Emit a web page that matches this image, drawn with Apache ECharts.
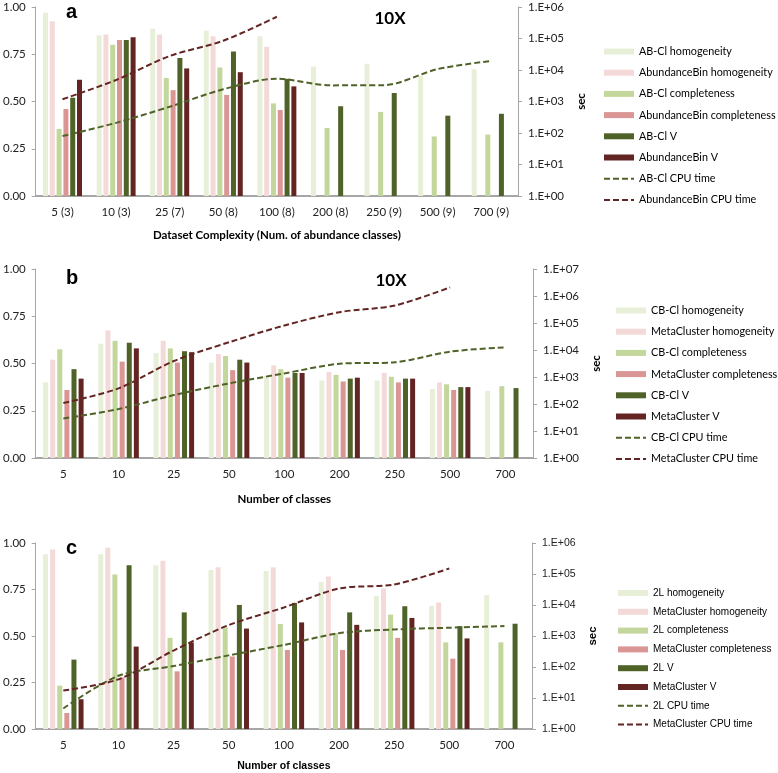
<!DOCTYPE html>
<html><head><meta charset="utf-8">
<script src="https://cdn.jsdelivr.net/npm/echarts@6/dist/echarts.min.js"></script>
<style>html,body{margin:0;padding:0;background:#fff}#c{width:778px;height:773px}</style>
</head><body><div id="c"></div>
<script>
// ---------- Panel a ----------
const catsA = ['5 (3)','10 (3)','25 (7)','50 (8)','100 (8)','200 (8)','250 (9)','500 (9)','700 (9)'];
const abclHomA = [0.97,0.85,0.885,0.875,0.845,0.685,0.70,0.635,0.67];
const abinHomA = [0.925,0.855,0.855,0.845,0.79,null,null,null,null];
const abclComA = [0.355,0.80,0.625,0.68,0.49,0.36,0.445,0.315,0.325];
const abinComA = [0.46,0.825,0.56,0.535,0.455,null,null,null,null];
const abclVA = [0.52,0.825,0.73,0.765,0.62,0.475,0.545,0.425,0.435];
const abinVA = [0.615,0.84,0.675,0.655,0.58,null,null,null,null];
const abclCpuA = [80,210,680,2450,5300,3250,3300,10700,19400];
const abinCpuA = [1180,4800,27800,85000,490000,null,null,null,null];
const namesA = ['AB-Cl homogeneity','AbundanceBin homogeneity','AB-Cl completeness','AbundanceBin completeness','AB-Cl V','AbundanceBin V','AB-Cl CPU time','AbundanceBin CPU time'];

// ---------- Panel b ----------
const catsB = ['5','10','25','50','100','200','250','500','700'];
const cbHomB = [0.40,0.605,0.555,0.505,0.435,0.41,0.41,0.365,0.355];
const mcHomB = [0.52,0.675,0.62,0.55,0.49,0.455,0.45,0.40,null];
const cbComB = [0.575,0.62,0.58,0.54,0.47,0.44,0.43,0.39,0.38];
const mcComB = [0.36,0.51,0.505,0.465,0.425,0.405,0.40,0.36,null];
const cbVB = [0.47,0.61,0.565,0.52,0.45,0.42,0.42,0.375,0.37];
const mcVB = [0.42,0.58,0.56,0.505,0.45,0.425,0.42,0.375,null];
const cbCpuB = [29,65,214,580,1360,3100,3500,8700,12600];
const mcCpuB = [108,380,3900,19400,81000,252000,447000,2090000,null];
const namesB = ['CB-Cl homogeneity','MetaCluster homogeneity','CB-Cl completeness','MetaCluster completeness','CB-Cl V','MetaCluster V','CB-Cl CPU time','MetaCluster CPU time'];

// ---------- Panel c ----------
const catsC = ['5','10','25','50','100','200','250','500','700'];
const tlHomC = [0.94,0.94,0.88,0.855,0.85,0.79,0.715,0.662,0.72];
const mcHomC = [0.965,0.975,0.905,0.87,0.87,0.82,0.755,0.68,null];
const tlComC = [0.233,0.83,0.49,0.547,0.565,0.515,0.615,0.466,0.466];
const mcComC = [0.086,0.277,0.31,0.39,0.425,0.425,0.49,0.378,null];
const tlVC = [0.373,0.88,0.627,0.667,0.678,0.627,0.66,0.553,0.566];
const mcVC = [0.16,0.443,0.465,0.54,0.573,0.56,0.597,0.487,null];
const tlCpuC = [4.6,52,107,237,515,1230,1630,1850,2090];
const mcCpuC = [17.4,40,340,2240,8300,34000,46000,151000,null];
const namesC = ['2L homogeneity','MetaCluster homogeneity','2L completeness','MetaCluster completeness','2L V','MetaCluster V','2L CPU time','MetaCluster CPU time'];

const logTicks = ['1.E+00','1.E+01','1.E+02','1.E+03','1.E+04','1.E+05','1.E+06','1.E+07'];

// ---------- styles ----------
const barColors = ['#E8EFD9','#F3DAD9','#C3D69B','#DA9694','#4F6228','#632523'];
const lineColors = ['#4F6228','#632523'];
const calibri = 'Lato';
const arial = 'Liberation Sans';

const panels = [
  {cats: catsA, bars:[abclHomA,abinHomA,abclComA,abinComA,abclVA,abinVA], lines:[abclCpuA,abinCpuA], names: namesA,
   grid:{left:33, top:7, width:485, height:189}, logMax:1e6, xName:'Dataset Complexity (Num. of abundance classes)', nameGap:33,
   barGap:'36%', legend:{left:598, top:39.5, gap:7.2}, font: calibri, legendFont: calibri, xNameFont: calibri, rFont: calibri},
  {cats: catsB, bars:[cbHomB,mcHomB,cbComB,mcComB,cbVB,mcVB], lines:[cbCpuB,mcCpuB], names: namesB,
   grid:{left:33, top:269, width:500, height:189}, logMax:1e7, xName:'Number of classes', nameGap:35,
   barGap:'42%', legend:{left:610, top:298.5, gap:7.2}, font: calibri, legendFont: calibri, xNameFont: calibri, rFont: calibri},
  {cats: catsC, bars:[tlHomC,mcHomC,tlComC,mcComC,tlVC,mcVC], lines:[tlCpuC,mcCpuC], names: namesC,
   grid:{left:32, top:543, width:500, height:191}, logMax:1e6, xName:'Number of classes', nameGap:32,
   barGap:'42%', legend:{left:612, top:581, gap:4.8}, font: calibri, legendFont: arial, xNameFont: arial, rFont: arial}
];

const option = {
  animation:false,
  backgroundColor:'#fff',
  grid: [], xAxis: [], yAxis: [], series: [], legend: [],
  graphic: [
    {type:'text', style:{x:66, y:12.3, text:'a', font:'bold 20px "Liberation Sans"', fill:'#000', verticalAlign:'middle'}},
    {type:'text', style:{x:66, y:278, text:'b', font:'bold 20px "Liberation Sans"', fill:'#000', verticalAlign:'middle'}},
    {type:'text', style:{x:66, y:548.5, text:'c', font:'bold 20px "Liberation Sans"', fill:'#000', verticalAlign:'middle'}},
    {type:'text', style:{x:390, y:19, text:'10X', font:'bold 17px Lato', fill:'#000', align:'center', verticalAlign:'middle'}},
    {type:'text', style:{x:391, y:280.5, text:'10X', font:'bold 17px Lato', fill:'#000', align:'center', verticalAlign:'middle'}}
  ]
};

panels.forEach((p, i) => {
  option.grid.push(Object.assign({containLabel:false}, p.grid));
  option.xAxis.push({
    type:'category', gridIndex:i, data:p.cats,
    name:p.xName, nameLocation:'middle', nameGap:p.nameGap,
    nameTextStyle:{fontFamily:p.xNameFont, fontWeight:'bold', fontSize:p.xNameFont===arial?10.5:11.5, color:'#000'},
    axisLine:{lineStyle:{color:'#A6A6A6', width:2}},
    axisTick:{show:false},
    axisLabel:{fontFamily:p.font, fontSize:11.5, color:'#222', margin:10, interval:0}
  });
  option.yAxis.push({
    type:'value', gridIndex:i, min:0, max:1, interval:0.25, position:'left',
    axisLine:{show:true, lineStyle:{color:'#A6A6A6', width:1}},
    axisTick:{show:true, inside:false, length:4, lineStyle:{color:'#A6A6A6'}},
    splitLine:{show:false},
    axisLabel:{fontFamily:p.font, fontSize:11.5, color:'#222', margin:10, formatter:v => v.toFixed(2)}
  });
  option.yAxis.push({
    type:'log', logBase:10, gridIndex:i, min:1, max:p.logMax, position:'right',
    name:'sec', nameLocation:'middle', nameGap:50,
    nameTextStyle:{fontFamily:p.rFont, fontWeight:'bold', fontSize:11.5, color:'#000'},
    axisLine:{show:true, lineStyle:{color:'#A6A6A6', width:1}},
    axisTick:{show:true, inside:false, length:4, lineStyle:{color:'#A6A6A6'}},
    splitLine:{show:false},
    axisLabel:{fontFamily:p.rFont, fontSize:p.rFont===arial?10.5:11.5, color:'#222', margin:10,
      formatter:v => logTicks[Math.round(Math.log10(v))]}
  });
  p.bars.forEach((arr, k) => {
    option.series.push({
      type:'bar', name:p.names[k], xAxisIndex:i, yAxisIndex:2*i, data:arr,
      barWidth:5, barGap:p.barGap,
      itemStyle:{color:barColors[k]}, z:2
    });
  });
  p.lines.forEach((arr, k) => {
    option.series.push({
      type:'line', name:p.names[6+k], xAxisIndex:i, yAxisIndex:2*i+1, data:arr,
      smooth:0.3, symbol:'none', connectNulls:false,
      lineStyle:{color:lineColors[k], width:2, type:[6,3]},
      itemStyle:{color:lineColors[k]}, z:5
    });
  });
  option.legend.push({
    orient:'vertical', left:p.legend.left, top:p.legend.top, itemGap:p.legend.gap,
    itemWidth:30, itemHeight:6,
    textStyle:{fontFamily:p.legendFont, fontSize:p.legendFont===arial?10:10.8, color:'#000', lineHeight:14},
    data:p.names.map((n, k) => k < 6 ? {name:n, icon:'rect'} :
      {name:n, itemStyle:{color:'rgba(0,0,0,0)', borderWidth:0, opacity:0}}),
    selectedMode:false
  });
});

const chart = echarts.init(document.getElementById('c'), null, {renderer:'canvas'});
chart.setOption(option);
</script>
</body></html>
